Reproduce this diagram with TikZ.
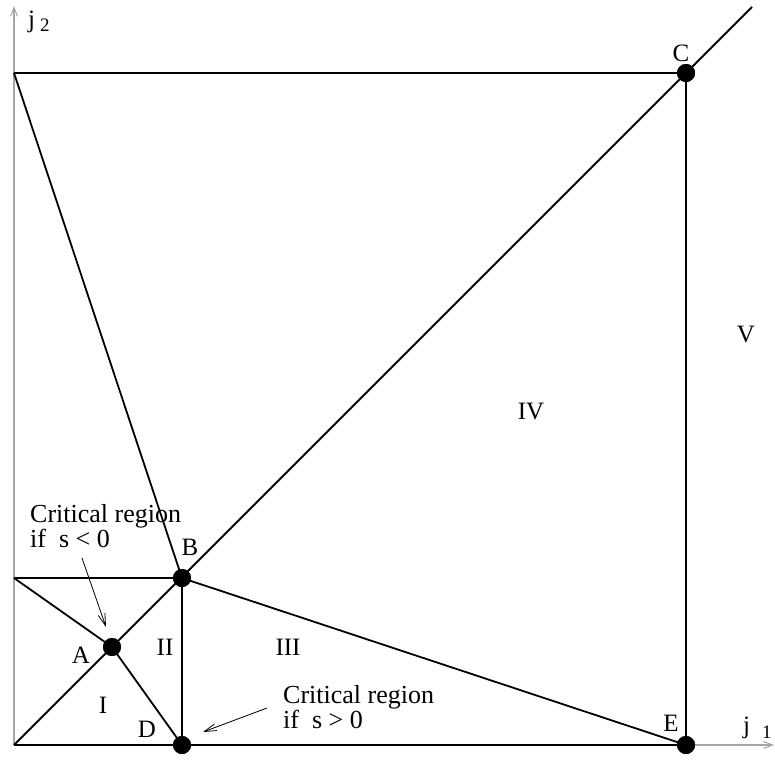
\documentclass[tikz,border=0pt]{standalone}
\usepackage{fontspec}
\setmainfont{Liberation Serif}
\usetikzlibrary{arrows.meta}
\tikzset{
  edge/.style={line width=1.8pt, black},
  axis/.style={line width=1.3pt, gray!70, -{Straight Barb[length=9pt,width=7pt,line width=1pt]}},
  pointer/.style={line width=0.8pt, -{Straight Barb[length=12pt,width=7pt,line width=0.8pt]}},
  dot/.style={circle, fill=black, inner sep=0pt, minimum size=18pt},
  lbl/.style={font=\fontsize{25}{27}\selectfont, inner sep=0pt},
  crit/.style={font=\fontsize{26}{28}\selectfont, inner sep=0pt, anchor=base west},
  sub/.style={font=\fontsize{19}{20}\selectfont, inner sep=0pt, anchor=base west},
}
\begin{document}
\begin{tikzpicture}[x=1pt,y=-1pt]
\useasboundingbox (0,0) rectangle (775,760);
% points
\coordinate (O) at (14,745);
\coordinate (Ytop) at (14,6);
\coordinate (Xend) at (774,745);
\coordinate (T) at (14,73);
\coordinate (L) at (14,578);
\coordinate (Dend) at (752,7);
\node[dot] (C) at (686,73) {};
\node[dot] (B) at (182,578) {};
\node[dot] (A) at (112,647) {};
\node[dot] (D) at (182,745) {};
\node[dot] (E) at (686,745) {};
% axes
\draw[axis] (O) -- (Ytop);
\draw[axis] (O) -- (Xend);
% lines
\draw[edge] (O) -- (E.center);
\draw[edge] (T) -- (C.center);
\draw[edge] (O) -- (Dend);
\draw[edge] (T) -- (B.center) -- (E.center) -- (C.center);
\draw[edge] (L) -- (B.center) -- (D.center);
\draw[edge] (L) -- (A.center) -- (D.center);
% redraw dots on top
\foreach \p in {A,B,C,D,E} \fill (\p) circle (9pt);
% axis labels
\node[lbl, anchor=base west] (j2) at (28,28) {j};
\node[sub] (two) at (40,32) {2};
\node[lbl, anchor=base west] (j1) at (743,733) {j};
\node[sub] (one) at (762,738) {1};
% point labels
\node[lbl] (lC) at (681,53) {C};
\node[lbl] (lB) at (190,547) {B};
\node[lbl] (lA) at (81,655) {A};
\node[lbl] (lD) at (147,729) {D};
\node[lbl] (lE) at (671,723) {E};
% region labels
\node[lbl] (lI) at (103,705) {I};
\node[lbl] (lII) at (165,647) {II};
\node[lbl] (lIII) at (288,647) {III};
\node[lbl] (lIV) at (531,411) {IV};
\node[lbl] (lV) at (746,334) {V};
% critical region texts
\node[crit] (cr1) at (30,522) {Critical region};
\node[crit] (cr1b) at (30,547) {if\ \ s < 0};
\node[crit] (cr2) at (283,703) {Critical region};
\node[crit] (cr2b) at (283,728) {if\ \ s > 0};
\coordinate (p1s) at (82,558);
\coordinate (p1e) at (106,627);
\coordinate (p2s) at (267,708);
\coordinate (p2e) at (203,732);
\draw[pointer] (p1s) -- (p1e);
\draw[pointer] (p2s) -- (p2e);
\end{tikzpicture}
\end{document}
